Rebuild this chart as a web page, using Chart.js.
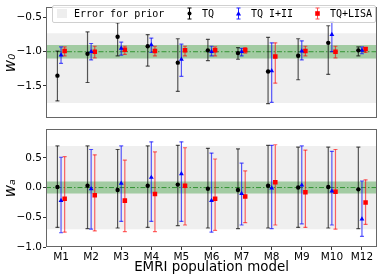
<!DOCTYPE html>
<html>
<head>
<meta charset="utf-8">
<script src="https://cdn.jsdelivr.net/npm/chart.js@4.4.0/dist/chart.umd.min.js"></script>
<style>
  body { margin: 0; background: #fff; }
  #wrap { position: relative; width: 382px; height: 278px; }
  canvas { position: absolute; left: 0; }
  #c0 { top: 0; }
  #c1 { top: 122px; }
  #legend {
    position: absolute; left: 52px; top: 5px; width: 322px; height: 16px;
    background: rgba(255,255,255,.85); border: 1px solid #d0d0d0; border-radius: 2px;
    font: 10px 'DejaVu Sans Mono', monospace; color: #000; z-index: 2;
  }
  #legend span { position: absolute; top: 2px; line-height: 12px; white-space: pre; }
  #legend svg { position: absolute; top: 1px; }
</style>
</head>
<body>
<div id="wrap">
  <canvas id="c0" width="382" height="126"></canvas>
  <canvas id="c1" width="382" height="156"></canvas>
  <div id="legend">
    <svg style="left:4px;top:3px" width="10" height="9"><rect width="10" height="9" fill="#eeeeee"/></svg>
    <span style="left:21px">Error for prior</span>
    <svg style="left:133px" width="7" height="13"><path d="M3.5 1V12M1.5 1H5.5M1.5 12H5.5" stroke="#000" stroke-width="1"/><circle cx="3.5" cy="6.5" r="2" fill="#000"/></svg>
    <span style="left:149px">TQ</span>
    <svg style="left:182px" width="7" height="13"><path d="M3.5 1V12M1.5 1H5.5M1.5 12H5.5" stroke="#2020ff" stroke-width="1"/><path d="M3.5 4L6 8.5H1Z" fill="#0000ff"/></svg>
    <span style="left:198px">TQ I+II</span>
    <svg style="left:261px" width="7" height="13"><path d="M3.5 1V12M1.5 1H5.5M1.5 12H5.5" stroke="#ff5050" stroke-width="1"/><rect x="1.2" y="4.2" width="4.6" height="4.6" fill="#ff0000"/></svg>
    <span style="left:277px">TQ+LISA</span>
  </div>
</div>
<script>
/* ── data ─────────────────────────────────────────────────────────────── */
const CATS = ['M1', 'M2', 'M3', 'M4', 'M5', 'M6', 'M7', 'M8', 'M9', 'M10', 'M12'];

// w0 panel
const W0_TQ      = [-1.35, -1.03, -0.78, -0.92, -1.16, -0.98, -1.02, -1.29, -1.06, -0.87, -0.98];
const W0_TQ_HI   = [-0.99, -0.71, -0.58, -0.75, -0.81, -0.82, -0.94, -0.79, -0.81, -0.62, -0.93];
const W0_TQ_LO   = [-1.72, -1.45, -1.06, -1.21, -1.58, -1.13, -1.11, -1.76, -1.41, -1.33, -1.06];
const W0_I2      = [-1.05, -1.00, -0.95, -0.90, -1.11, -1.00, -1.00, -1.28, -0.99, -0.75, -0.98];
const W0_I2_HI   = [-0.93, -0.88, -0.86, -0.80, -0.89, -0.92, -0.95, -0.87, -0.84, -0.56, -0.93];
const W0_I2_LO   = [-1.17, -1.12, -1.05, -1.01, -1.36, -1.06, -1.06, -1.74, -1.12, -1.00, -1.03];
const W0_LISA    = [-0.99, -1.00, -0.97, -0.99, -0.98, -0.98, -0.98, -1.07, -0.99, -1.00, -0.96];
const W0_LISA_HI = [-0.93, -0.92, -0.92, -0.92, -0.92, -0.93, -0.94, -0.87, -0.92, -0.92, -0.94];
const W0_LISA_LO = [-1.06, -1.09, -1.04, -1.06, -1.06, -1.06, -1.02, -1.46, -1.06, -1.09, -1.01];

// wa panel
const WA_TQ      = [0.01, 0.03, -0.04, 0.03, 0.05, -0.02, -0.04, 0.03, 0.00, 0.01, -0.03];
const WA_TQ_HI   = [0.70, 0.70, 0.64, 0.70, 0.71, 0.66, 0.65, 0.71, 0.68, 0.68, 0.68];
const WA_TQ_LO   = [-0.67, -0.69, -0.68, -0.67, -0.64, -0.68, -0.69, -0.68, -0.67, -0.68, -0.69];
const WA_I2      = [-0.22, -0.02, 0.07, 0.17, 0.23, -0.22, -0.10, -0.01, 0.04, -0.06, -0.53];
const WA_I2_HI   = [0.51, 0.64, 0.70, 0.77, 0.77, 0.58, 0.41, 0.71, 0.70, 0.61, 0.11];
const WA_I2_LO   = [-0.76, -0.70, -0.57, -0.57, -0.57, -0.75, -0.63, -0.69, -0.61, -0.63, -0.82];
const WA_LISA    = [-0.19, -0.13, -0.22, -0.11, 0.03, -0.19, -0.15, 0.09, -0.08, -0.07, -0.25];
const WA_LISA_HI = [0.52, 0.55, 0.46, 0.60, 0.67, 0.48, 0.28, 0.72, 0.63, 0.64, 0.13];
const WA_LISA_LO = [-0.75, -0.73, -0.74, -0.74, -0.63, -0.72, -0.59, -0.63, -0.67, -0.70, -0.62];

// fiducial values, prior ranges and the +-0.1 band
const W0_TRUE = -1.0, W0_PRIOR = [-1.75, -0.73], W0_BAND = [-1.1, -0.9];
const WA_TRUE = 0.0,  WA_PRIOR = [-0.7, 0.7],    WA_BAND = [-0.1, 0.1];

const W0_TICKS = [-1.5, -1.0, -0.5];
const WA_TICKS = [-1.0, -0.5, 0.0, 0.5];

/* ── helpers ──────────────────────────────────────────────────────────── */
const OFF = { tq: -0.12, i2: 0, lisa: 0.12 };
const XMIN = 0.5, XMAX = CATS.length + 0.5;
const SPINE = '#666';

Chart.defaults.font.family = "'DejaVu Sans', sans-serif";
Chart.defaults.color = '#000';

const fmt = v => v.toFixed(1).replace('-', '\u2212');

function errSet(lo, hi, off, color) {
  const data = [];
  lo.forEach((l, i) => {
    const x = i + 1 + off;
    data.push({ x, y: l }, { x, y: hi[i] }, { x, y: null });
  });
  return {
    data, showLine: true, spanGaps: false, borderColor: color, borderWidth: 1.2,
    pointStyle: 'line', pointRadius: 2, pointBorderWidth: 1.2, pointBorderColor: color,
    pointHoverRadius: 0, order: 5,
  };
}

function markSet(vals, off, color, style, r) {
  return {
    data: vals.map((v, i) => ({ x: i + 1 + off, y: v })),
    pointStyle: style, pointRadius: r, pointBackgroundColor: color,
    pointBorderColor: color, pointBorderWidth: 0, order: 1,
  };
}

function hband(y, color, fill, order) {
  return {
    data: [{ x: XMIN, y }, { x: XMAX, y }], showLine: true, fill,
    backgroundColor: color, borderWidth: 0, pointRadius: 0, order,
  };
}

const frame = {
  id: 'frame',
  afterDraw(chart) {
    const { ctx, chartArea: a } = chart;
    ctx.save();
    ctx.strokeStyle = SPINE; ctx.lineWidth = 1;
    ctx.strokeRect(Math.round(a.left) + 0.5, Math.round(a.top) + 0.5,
                   Math.round(a.right - a.left) - 1, Math.round(a.bottom - a.top) - 1);
    ctx.restore();
  },
};

function panel(id, p) {
  const datasets = [
    hband(p.prior[1], '#efefef', '+1', 12),
    hband(p.prior[0], '#efefef', false, 11),
    hband(p.band[1], 'rgba(0,128,0,.32)', '+1', 10),
    hband(p.band[0], 'rgba(0,128,0,.32)', false, 9),
    {
      data: [{ x: XMIN, y: p.truth }, { x: XMAX, y: p.truth }], showLine: true,
      borderColor: 'rgba(40,140,40,.9)', borderWidth: 1, borderDash: [5, 2, 1.5, 2],
      pointRadius: 0, order: 8,
    },
    errSet(p.tq[1], p.tq[2], OFF.tq, 'rgba(0,0,0,.65)'),
    errSet(p.i2[1], p.i2[2], OFF.i2, 'rgba(0,0,255,.65)'),
    errSet(p.lisa[1], p.lisa[2], OFF.lisa, 'rgba(255,0,0,.6)'),
    markSet(p.tq[0], OFF.tq, '#000', 'circle', 2.2),
    markSet(p.i2[0], OFF.i2, '#0000ff', 'triangle', 2.8),
    markSet(p.lisa[0], OFF.lisa, '#ff0000', 'rect', 3.2),
  ];
  const x = {
    type: 'linear', min: XMIN, max: XMAX, display: p.showX,
    afterBuildTicks: s => { s.ticks = CATS.map((c, i) => ({ value: i + 1 })); },
    ticks: { callback: v => CATS[v - 1], font: { size: 10.5 }, padding: 1, maxRotation: 0, autoSkip: false },
    grid: { drawOnChartArea: false, drawTicks: true, tickLength: 3, color: '#333' },
    border: { display: false },
    title: { display: true, text: 'EMRI population model', font: { size: 13.4 }, padding: { top: 0, bottom: 2 } },
  };
  if (p.showX) x.afterFit = s => { s.height = 31; };
  return new Chart(document.getElementById(id), {
    type: 'scatter',
    data: { datasets },
    plugins: [frame],
    options: {
      responsive: false, animation: false, devicePixelRatio: 1,
      layout: { padding: { top: 3, right: 5, bottom: p.showX ? 0 : 1, left: 0 } },
      plugins: { legend: { display: false }, tooltip: { enabled: false } },
      scales: {
        x,
        y: {
          min: p.ymin, max: p.ymax,
          afterFit: s => { s.width = 46; },
          afterBuildTicks: s => { s.ticks = p.ticks.map(v => ({ value: v })); },
          ticks: { callback: v => fmt(v), font: { size: 10.5 }, padding: 1 },
          grid: { drawOnChartArea: false, drawTicks: true, tickLength: 3, color: '#333' },
          border: { display: false },
          title: { display: true, text: p.label, font: { size: 15, style: 'italic' }, padding: { top: 2, bottom: 0 } },
        },
      },
    },
  });
}

panel('c0', {
  tq: [W0_TQ, W0_TQ_LO, W0_TQ_HI], i2: [W0_I2, W0_I2_LO, W0_I2_HI], lisa: [W0_LISA, W0_LISA_LO, W0_LISA_HI],
  prior: W0_PRIOR, band: W0_BAND, truth: W0_TRUE, ticks: W0_TICKS,
  ymin: -1.98, ymax: -0.35, label: 'w\u2080', showX: false,
});
panel('c1', {
  tq: [WA_TQ, WA_TQ_LO, WA_TQ_HI], i2: [WA_I2, WA_I2_LO, WA_I2_HI], lisa: [WA_LISA, WA_LISA_LO, WA_LISA_HI],
  prior: WA_PRIOR, band: WA_BAND, truth: WA_TRUE, ticks: WA_TICKS,
  ymin: -1.0, ymax: 0.98, label: 'w\u2090', showX: true,
});
</script>
</body>
</html>
